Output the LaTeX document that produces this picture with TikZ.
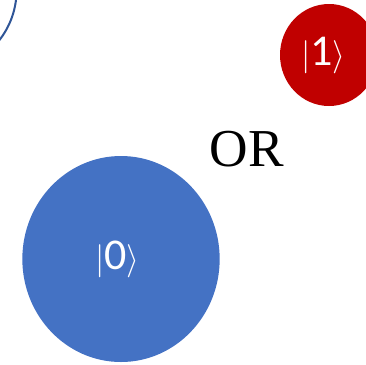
\documentclass[tikz,border=0pt]{standalone}
\usepackage{fontspec}
\setmainfont{Liberation Serif}
\newfontfamily\ketfont{Carlito}
\usetikzlibrary{shapes.geometric}
\definecolor{QubitBlue}{RGB}{68, 114, 196}
\definecolor{QubitRed}{RGB}{192, 0, 0}
\definecolor{EdgeBlue}{RGB}{47, 85, 151}

\begin{document}
\begin{tikzpicture}[x=0.75pt, y=-0.75pt,
    state/.style={ellipse, inner sep=0pt, text=white,
      font=\ketfont\fontsize{33}{33}\selectfont}]
    \useasboundingbox (0, 0) rectangle (366, 364);
    \clip (0, 0) rectangle (366, 364);

    % Outline in the corner
    \node[circle, draw=EdgeBlue, line width=1.5pt, minimum size=122.4pt] (outline) at (-65, -10) {};

    % Excited state
    \node[state, fill=QubitRed, minimum width=73.5pt, minimum height=76.5pt] (one) at (329, 55) {\hspace*{-8pt}$\big|$1$\big\rangle$};

    % Ground state
    \node[state, fill=QubitBlue, minimum width=148pt, minimum height=154.5pt] (zero) at (121, 259) {\hspace*{-5pt}$\big|$0$\big\rangle$};

    % Choice
    \node[font=\fontsize{40}{40}\selectfont] (or) at (247, 149) {OR};
\end{tikzpicture}
\end{document}
